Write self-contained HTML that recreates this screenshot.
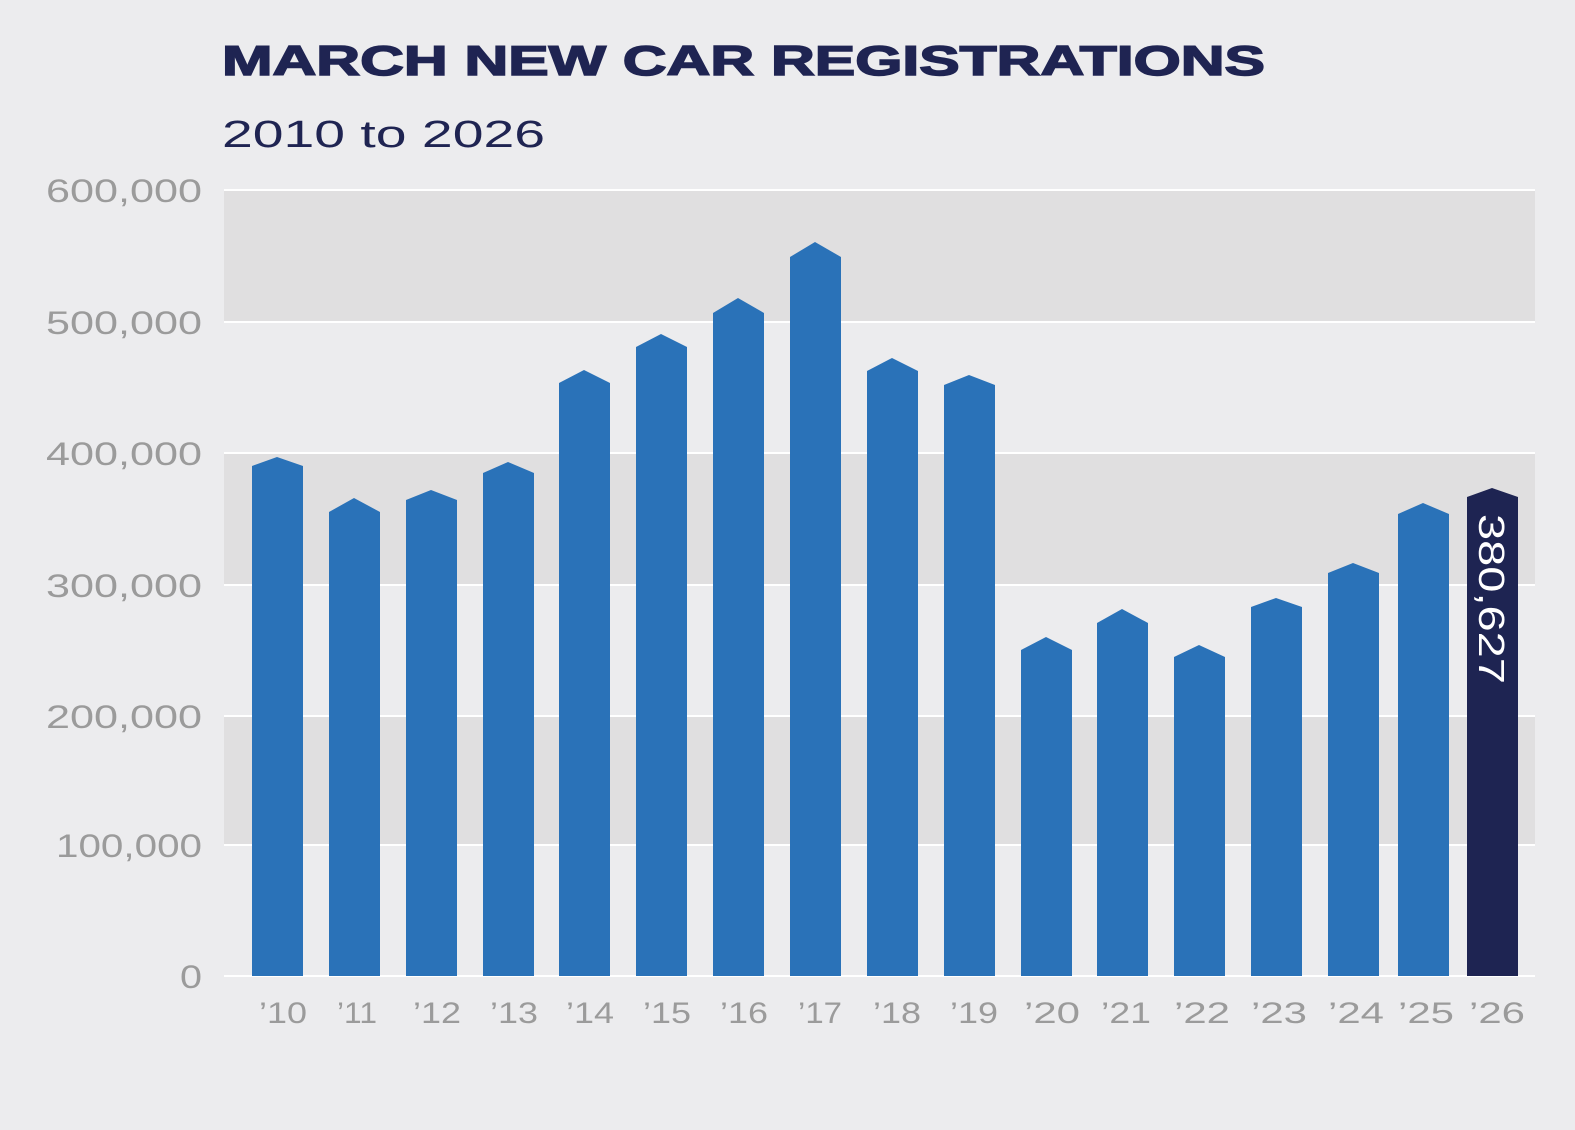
<!DOCTYPE html>
<html><head><meta charset="utf-8"><style>
html,body{margin:0;padding:0;background:#ececee;}
body{width:1575px;height:1125px;overflow:hidden;position:relative;font-family:"Liberation Sans",sans-serif;}
</style></head><body>
<svg width="1575" height="1125" viewBox="0 0 1575 1125" xmlns="http://www.w3.org/2000/svg">
<rect x="0" y="0" width="1575" height="1125" fill="#ececee"/>
<text x="222" y="75" font-family="Liberation Sans" font-weight="900" font-size="42" fill="#1f2452" textLength="1043" lengthAdjust="spacingAndGlyphs" stroke="#1f2452" stroke-width="1.5">MARCH NEW CAR REGISTRATIONS</text>
<text x="222" y="147" font-family="Liberation Sans" font-size="38" fill="#1f2452" textLength="323" lengthAdjust="spacingAndGlyphs">2010 to 2026</text>
<rect x="224" y="190" width="1311" height="132" fill="#e0dfe0"/>
<rect x="224" y="453" width="1311" height="132" fill="#e0dfe0"/>
<rect x="224" y="716" width="1311" height="129" fill="#e0dfe0"/>
<g stroke="#ffffff" stroke-width="2">
<line x1="224" y1="190" x2="1535" y2="190"/><line x1="224" y1="322" x2="1535" y2="322"/>
<line x1="224" y1="453" x2="1535" y2="453"/><line x1="224" y1="585" x2="1535" y2="585"/>
<line x1="224" y1="716" x2="1535" y2="716"/><line x1="224" y1="845" x2="1535" y2="845"/>
<line x1="224" y1="976" x2="1535" y2="976"/>
</g>
<g font-family="Liberation Sans" font-size="32" fill="#9b9b9b" lengthAdjust="spacingAndGlyphs">
<text x="46" y="202" textLength="156" lengthAdjust="spacingAndGlyphs">600,000</text>
<text x="46" y="334" textLength="156" lengthAdjust="spacingAndGlyphs">500,000</text>
<text x="46" y="465" textLength="156" lengthAdjust="spacingAndGlyphs">400,000</text>
<text x="46" y="597" textLength="156" lengthAdjust="spacingAndGlyphs">300,000</text>
<text x="46" y="728" textLength="156" lengthAdjust="spacingAndGlyphs">200,000</text>
<text x="56" y="857" textLength="146" lengthAdjust="spacingAndGlyphs">100,000</text>
<text x="180" y="988" textLength="22" lengthAdjust="spacingAndGlyphs">0</text>
</g>
<g fill="#2a72b8">
<polygon points="252,976 252,466 277,457 303,466 303,976"/>
<polygon points="329,976 329,512 354,498 380,512 380,976"/>
<polygon points="406,976 406,500 431,490 457,500 457,976"/>
<polygon points="483,976 483,473 508,462 534,473 534,976"/>
<polygon points="559,976 559,383 584,370 610,383 610,976"/>
<polygon points="636,976 636,347 661,334 687,347 687,976"/>
<polygon points="713,976 713,313 738,298 764,313 764,976"/>
<polygon points="790,976 790,257 815,242 841,257 841,976"/>
<polygon points="867,976 867,371 892,358 918,371 918,976"/>
<polygon points="944,976 944,385 969,375 995,385 995,976"/>
<polygon points="1021,976 1021,650 1046,637 1072,650 1072,976"/>
<polygon points="1097,976 1097,623 1122,609 1148,623 1148,976"/>
<polygon points="1174,976 1174,657 1199,645 1225,657 1225,976"/>
<polygon points="1251,976 1251,607 1276,598 1302,607 1302,976"/>
<polygon points="1328,976 1328,573 1353,563 1379,573 1379,976"/>
<polygon points="1398,976 1398,514 1423,503 1449,514 1449,976"/>
</g>
<polygon points="1467,976 1467,497 1492,488 1518,497 1518,976" fill="#1e2452"/>
<text transform="translate(1479,514) rotate(90)" font-family="Liberation Sans" font-size="36" fill="#ffffff" textLength="170" lengthAdjust="spacingAndGlyphs">380,627</text>
<g font-family="Liberation Sans" font-size="30" fill="#9b9b9b" text-anchor="middle">
<text x="283" y="1023" textLength="48" lengthAdjust="spacingAndGlyphs">’10</text><text x="357" y="1023" textLength="40" lengthAdjust="spacingAndGlyphs">’11</text><text x="437" y="1023" textLength="48" lengthAdjust="spacingAndGlyphs">’12</text>
<text x="514" y="1023" textLength="48" lengthAdjust="spacingAndGlyphs">’13</text><text x="590" y="1023" textLength="48" lengthAdjust="spacingAndGlyphs">’14</text><text x="667" y="1023" textLength="48" lengthAdjust="spacingAndGlyphs">’15</text>
<text x="744" y="1023" textLength="48" lengthAdjust="spacingAndGlyphs">’16</text><text x="820" y="1023" textLength="44" lengthAdjust="spacingAndGlyphs">’17</text><text x="897" y="1023" textLength="48" lengthAdjust="spacingAndGlyphs">’18</text>
<text x="974" y="1023" textLength="48" lengthAdjust="spacingAndGlyphs">’19</text><text x="1052" y="1023" textLength="56" lengthAdjust="spacingAndGlyphs">’20</text><text x="1126" y="1023" textLength="50" lengthAdjust="spacingAndGlyphs">’21</text>
<text x="1202" y="1023" textLength="56" lengthAdjust="spacingAndGlyphs">’22</text><text x="1279" y="1023" textLength="56" lengthAdjust="spacingAndGlyphs">’23</text><text x="1356" y="1023" textLength="56" lengthAdjust="spacingAndGlyphs">’24</text>
<text x="1426" y="1023" textLength="56" lengthAdjust="spacingAndGlyphs">’25</text><text x="1497" y="1023" textLength="56" lengthAdjust="spacingAndGlyphs">’26</text>
</g>
</svg>
</body></html>
